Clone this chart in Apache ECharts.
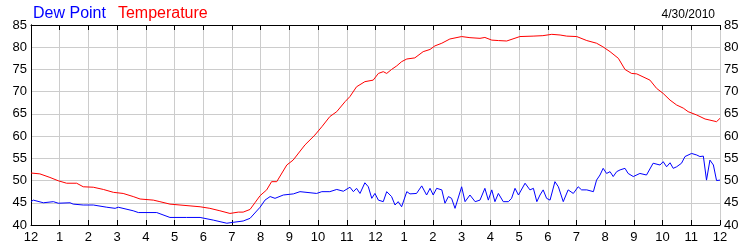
<!DOCTYPE html>
<html><head><meta charset="utf-8">
<script src="https://cdn.jsdelivr.net/npm/echarts@6/dist/echarts.min.js"></script>
<style>html,body{margin:0;padding:0;background:#fff}#c{width:750px;height:250px}</style>
</head><body><div id="c"></div>
<script>
var xTickLabels = ['12','1','2','3','4','5','6','7','8','9','10','11','12','1','2','3','4','5','6','7','8','9','10','11','12'];
var yTicks = [40,45,50,55,60,65,70,75,80,85];
var dateLabel = '4/30/2010';

var tempHours = [0,0.31,0.66,0.95,1.24,1.59,1.82,2.17,2.52,2.87,3.21,3.56,3.80,4.26,4.49,4.84,5.19,5.54,5.89,6.23,6.58,6.93,7.22,7.39,7.63,7.80,7.98,8.21,8.38,8.56,8.91,9.13,9.54,9.89,10.13,10.41,10.65,10.94,11.11,11.34,11.63,11.92,12.10,12.27,12.39,12.56,12.74,12.91,13.09,13.37,13.66,13.90,14.07,14.31,14.59,15.00,15.29,15.64,15.81,16.05,16.28,16.57,17.03,17.49,17.83,18.14,18.43,18.66,19.01,19.36,19.70,19.92,20.17,20.46,20.69,20.92,21.10,21.56,21.79,22.02,22.26,22.49,22.72,22.89,23.19,23.48,23.65,23.88,24.0];
var tempValues = [51.7,51.5,50.7,49.95,49.4,49.4,48.6,48.5,48.0,47.35,47.1,46.4,45.85,45.6,45.25,44.7,44.5,44.3,44.1,43.75,43.2,42.6,42.9,42.9,43.5,45.0,46.6,47.9,49.75,49.75,53.5,54.6,58.0,60.25,62.1,64.4,65.5,67.75,68.9,71.1,72.25,72.6,74.1,74.5,74.1,75.0,75.8,76.75,77.35,77.6,79.0,79.5,80.3,80.9,81.85,82.4,82.15,82.0,82.2,81.6,81.5,81.4,82.4,82.5,82.6,82.9,82.75,82.5,82.4,81.5,80.9,80.1,79.0,77.5,75.0,74.1,74.0,72.6,70.75,69.6,68.1,67.0,66.3,65.5,64.75,63.85,63.6,63.25,64.0];

var dewHours = [0,0.08,0.43,0.78,0.95,1.36,1.47,1.82,2.17,2.64,2.93,3.04,3.56,3.74,4.38,4.84,5.42,5.89,6.35,6.82,7.04,7.39,7.63,7.98,8.15,8.33,8.50,8.79,9.14,9.37,9.95,10.13,10.41,10.65,10.88,11.11,11.23,11.34,11.46,11.63,11.75,11.87,11.98,12.10,12.27,12.39,12.56,12.68,12.79,12.91,13.09,13.20,13.43,13.61,13.78,13.90,14.01,14.13,14.31,14.42,14.54,14.65,14.77,15.00,15.12,15.29,15.47,15.64,15.81,15.93,16.05,16.16,16.28,16.45,16.63,16.74,16.86,16.98,17.21,17.38,17.50,17.62,17.73,17.84,17.96,18.08,18.25,18.37,18.54,18.71,18.89,19.06,19.18,19.36,19.59,19.70,19.82,19.93,20.05,20.17,20.28,20.40,20.52,20.69,20.80,20.98,21.21,21.44,21.67,21.91,22.02,22.14,22.26,22.37,22.49,22.66,22.78,23.01,23.19,23.30,23.42,23.53,23.65,23.77,23.88,24.0];
var dewValues = [45.25,45.6,45.0,45.25,44.9,45.0,44.7,44.5,44.5,44.0,43.75,44.0,43.2,42.8,42.8,41.7,41.7,41.7,41.1,40.4,40.6,40.9,41.5,44.0,45.6,46.4,46.0,46.75,47.0,47.5,47.1,47.5,47.5,48.0,47.6,48.5,47.5,48.25,47.1,49.5,48.6,46.0,47.1,45.6,45.25,47.5,46.4,44.5,45.25,44.1,47.5,47.0,47.1,48.8,46.75,48.25,46.75,48.25,47.9,44.9,46.4,46.0,43.75,48.6,45.25,46.75,45.25,45.6,48.25,45.6,47.9,45.25,47.1,45.25,45.25,46.0,48.25,46.75,49.4,47.9,48.25,45.25,46.75,47.9,46.0,45.6,49.75,48.6,45.25,47.9,47.1,48.6,47.9,47.9,47.5,50.1,51.25,52.75,51.6,52.0,50.9,52.0,52.4,52.75,51.6,50.9,51.6,51.25,53.9,53.5,54.25,53.1,54.0,52.75,53.1,53.9,55.4,56.1,55.75,55.4,55.5,50.1,54.6,53.5,50.0,50.1];

function pairs(xs, ys){ return xs.map(function(x,i){ return [x, ys[i]]; }); }

var chart = echarts.init(document.getElementById('c'));
var FONT = 'Liberation Sans, Arial, sans-serif';
var yAxisCommon = {
  type:'value', min:yTicks[0], max:yTicks[yTicks.length-1], interval:5,
  axisLine:{show:true, lineStyle:{color:'#000', width:1}},
  axisTick:{show:false},
  axisLabel:{color:'#000', fontSize:13, fontFamily:FONT, margin:4},
  splitLine:{show:true, lineStyle:{color:'#cccccc', width:1}}
};
chart.setOption({
  animation:false,
  backgroundColor:'#fff',
  title:{text:dateLabel, right:30, top:4, textStyle:{color:'#000', fontSize:12, fontWeight:'normal', fontFamily:FONT}},
  legend:{left:23, top:1, icon:'none', itemWidth:0, itemGap:7,
    textStyle:{fontSize:16, fontFamily:FONT},
    data:[{name:'Dew Point', textStyle:{color:'#0000ff'}},{name:'Temperature', textStyle:{color:'#ff0000'}}]},
  grid:{left:31, right:30, top:25, bottom:25},
  xAxis:[{
    type:'value', min:0, max:24, interval:1, position:'bottom',
    axisLine:{show:true, lineStyle:{color:'#000'}},
    axisTick:{show:true, inside:true, length:5, lineStyle:{color:'#000'}},
    axisLabel:{color:'#000', fontSize:13, fontFamily:FONT, margin:6, formatter:function(v){ return xTickLabels[Math.round(v)]; }},
    splitLine:{show:true, lineStyle:{color:'#cccccc'}}
  },{
    type:'value', min:0, max:24, interval:1, position:'top',
    axisLine:{show:true, lineStyle:{color:'#000'}},
    axisTick:{show:true, inside:true, length:5, lineStyle:{color:'#000'}},
    axisLabel:{show:false}, splitLine:{show:false}
  }],
  yAxis:[Object.assign({position:'left'}, yAxisCommon), Object.assign({position:'right'}, yAxisCommon, {splitLine:{show:false}})],
  series:[
    {name:'Dew Point', type:'line', data:pairs(dewHours, dewValues), showSymbol:false, symbol:'none',
     lineStyle:{color:'#0000ff', width:1}, itemStyle:{color:'#0000ff'}},
    {name:'Temperature', type:'line', data:pairs(tempHours, tempValues), showSymbol:false, symbol:'none',
     lineStyle:{color:'#ff0000', width:1}, itemStyle:{color:'#ff0000'}}
  ]
});
</script></body></html>
